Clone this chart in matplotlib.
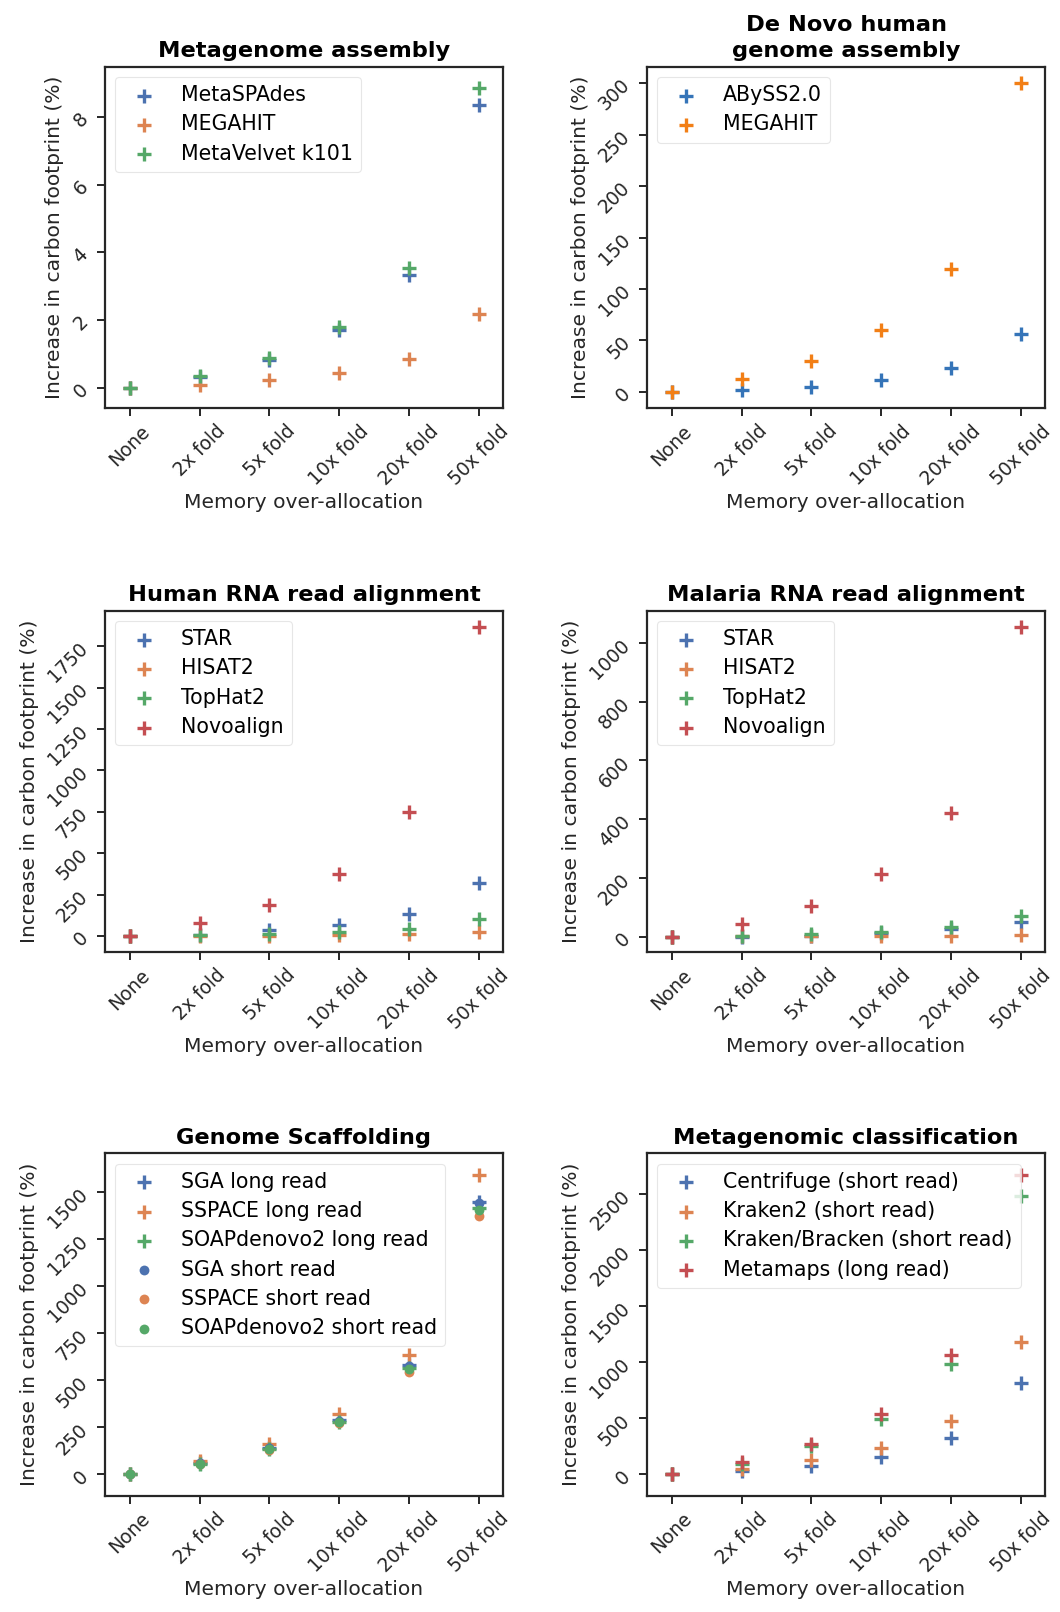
import matplotlib
matplotlib.use("Agg")
import matplotlib.pyplot as plt

categories = ["None", "2x fold", "5x fold", "10x fold", "20x fold", "50x fold"]

# Panel 1: Metagenome assembly
meta_spades = [0, 0.32, 0.82, 1.70, 3.33, 8.35]
meta_megahit = [0, 0.08, 0.23, 0.44, 0.86, 2.17]
meta_velvet = [0, 0.35, 0.89, 1.80, 3.54, 8.86]
meta_yticks = [0, 2, 4, 6, 8]

# Panel 2: De Novo human genome assembly
denovo_abyss = [0, 2, 5.2, 11.7, 23, 56.4]
denovo_megahit = [0, 12.3, 30.1, 60, 119.9, 300]
denovo_yticks = [0, 50, 100, 150, 200, 250, 300]

# Panel 3: Human RNA read alignment
hum_star = [0, 6, 36, 66, 131, 320]
hum_hisat2 = [0, 0, 2, 6, 10, 26]
hum_tophat2 = [0, 6, 12, 26, 42, 105]
hum_novoalign = [0, 76, 187, 374, 747, 1867]
hum_yticks = [0, 250, 500, 750, 1000, 1250, 1500, 1750]

# Panel 4: Malaria RNA read alignment
mal_star = [0, 0, 3, 11, 25, 49]
mal_hisat2 = [0, 1, 2, 3, 3, 6]
mal_tophat2 = [0, 2, 8, 17, 32, 70]
mal_novoalign = [0, 43, 105, 212, 422, 1054]
mal_yticks = [0, 200, 400, 600, 800, 1000]

# Panel 5: Genome Scaffolding
sga_long = [0, 58, 138, 289, 582, 1450]
sspace_long = [0, 73, 160, 323, 635, 1592]
soap_long = [0, 55, 133, 280, 567, 1415]
sga_short = [0, 58, 138, 284, 576, 1441]
sspace_short = [0, 55, 129, 271, 546, 1374]
soap_short = [0, 55, 133, 278, 558, 1406]
scaf_yticks = [0, 250, 500, 750, 1000, 1250, 1500]

# Panel 6: Metagenomic classification
centrifuge = [0, 30, 74, 154, 326, 815]
kraken2 = [0, 50, 125, 237, 474, 1180]
bracken = [0, 89, 252, 495, 985, 2482]
metamaps = [0, 110, 273, 534, 1068, 2669]
cls_yticks = [0, 500, 1000, 1500, 2000, 2500]

BLUE, ORANGE, GREEN, RED = "#4C72B0", "#DD8452", "#55A868", "#C44E52"
TBLUE, TORANGE = "#3574B8", "#F27F16"

W, H = 1060, 1612
fig = plt.figure(figsize=(W / 100, H / 100), dpi=100)

cols = [105, 647]
rows = [(66.7, 408.3), (610.7, 952.3), (1153.3, 1496)]
aw = 398


def make_ax(r, c):
    top, bot = rows[r]
    return fig.add_axes([cols[c] / W, 1 - bot / H, aw / W, (bot - top) / H])


panels = [
    ("Metagenome assembly", (0, 0), (-0.61, 9.48), meta_yticks,
     [("MetaSPAdes", meta_spades, BLUE, "+"),
      ("MEGAHIT", meta_megahit, ORANGE, "+"),
      ("MetaVelvet k101", meta_velvet, GREEN, "+")]),
    ("De Novo human\ngenome assembly", (0, 1), (-15.9, 316), denovo_yticks,
     [("ABySS2.0", denovo_abyss, TBLUE, "+"),
      ("MEGAHIT", denovo_megahit, TORANGE, "+")]),
    ("Human RNA read alignment", (1, 0), (-98.7, 1965), hum_yticks,
     [("STAR", hum_star, BLUE, "+"),
      ("HISAT2", hum_hisat2, ORANGE, "+"),
      ("TopHat2", hum_tophat2, GREEN, "+"),
      ("Novoalign", hum_novoalign, RED, "+")]),
    ("Malaria RNA read alignment", (1, 1), (-53.2, 1110), mal_yticks,
     [("STAR", mal_star, BLUE, "+"),
      ("HISAT2", mal_hisat2, ORANGE, "+"),
      ("TopHat2", mal_tophat2, GREEN, "+"),
      ("Novoalign", mal_novoalign, RED, "+")]),
    ("Genome Scaffolding", (2, 0), (-115, 1707), scaf_yticks,
     [("SGA long read", sga_long, BLUE, "+"),
      ("SSPACE long read", sspace_long, ORANGE, "+"),
      ("SOAPdenovo2 long read", soap_long, GREEN, "+"),
      ("SGA short read", sga_short, BLUE, "o"),
      ("SSPACE short read", sspace_short, ORANGE, "o"),
      ("SOAPdenovo2 short read", soap_short, GREEN, "o")]),
    ("Metagenomic classification", (2, 1), (-193, 2862), cls_yticks,
     [("Centrifuge (short read)", centrifuge, BLUE, "+"),
      ("Kraken2 (short read)", kraken2, ORANGE, "+"),
      ("Kraken/Bracken (short read)", bracken, GREEN, "+"),
      ("Metamaps (long read)", metamaps, RED, "+")]),
]

x = list(range(len(categories)))
for title, (r, c), ylim, yticks, series in panels:
    ax = make_ax(r, c)
    for label, vals, color, m in series:
        if m == "+":
            ax.scatter(x, vals, marker="+", s=100, linewidths=2.4, color=color, label=label)
        else:
            ax.scatter(x, vals, marker="o", s=50, linewidths=0, color=color, label=label)
    ax.set_xlim(-0.355, 5.35)
    ax.set_ylim(*ylim)
    ax.set_xticks(x)
    ax.set_xticklabels(categories)
    ax.set_yticks(yticks)
    ax.tick_params(axis="both", labelsize=13.5, length=6, width=1.4, color="#262626",
                   labelcolor="#262626", pad=3.5)
    ax.tick_params(axis="x", labelrotation=45)
    ax.tick_params(axis="y", labelrotation=45)
    for sp in ax.spines.values():
        sp.set_linewidth(1.6)
        sp.set_color("#262626")
    ax.set_title(title, fontsize=16.2, fontweight="bold", pad=7,
                 linespacing=1.35 if "\n" in title else 1.2)
    ax.set_xlabel("Memory over-allocation", fontsize=14.6, color="#262626", labelpad=3)
    ax.set_ylabel("Increase in carbon footprint (%)", fontsize=14.6, color="#262626")
    leg = ax.legend(loc="upper left", fontsize=14.8, framealpha=0.8, edgecolor="#e0e0e0",
                    labelspacing=0.45, handletextpad=0.8)
    leg.get_frame().set_linewidth(0.8)

fig.savefig("out.png", dpi=100, facecolor="white")
